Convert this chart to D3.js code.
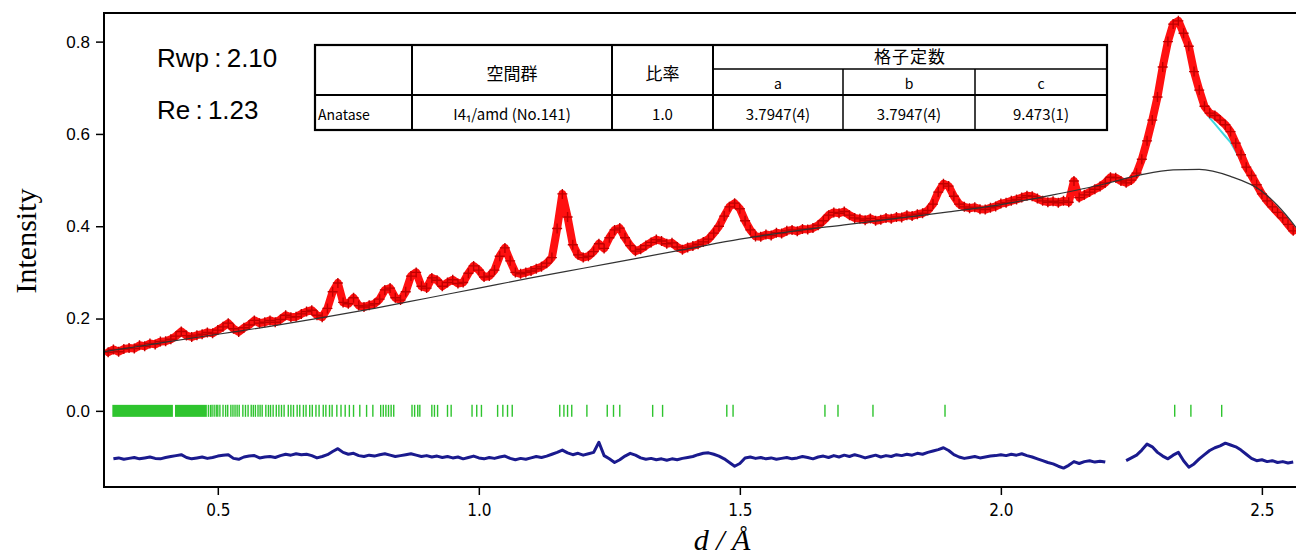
<!DOCTYPE html>
<html>
<head>
<meta charset="utf-8">
<script src="https://cdn.jsdelivr.net/npm/d3@7"></script>
<style>
  body { margin: 0; background: #fff; }
  svg { display: block; }
</style>
</head>
<body>
<svg id="chart" width="1296" height="555"></svg>
<script>
// axis limits and ticks
var xLimits = [0.282, 2.573];
var yLimits = [-0.165, 0.862];
var xTicks = [0.5, 1.0, 1.5, 2.0, 2.5];
var yTicks = [0.0, 0.2, 0.4, 0.6, 0.8];

// observed intensity, d from 0.29 step 0.01
var obsStart = 0.29, obsStep = 0.01;
var obs = [
  0.127,0.133,0.128,0.134,0.136,0.135,0.142,0.140,0.146,0.144,
  0.150,0.151,0.155,0.162,0.172,0.163,0.160,0.164,0.166,0.170,
  0.168,0.175,0.182,0.190,0.178,0.171,0.180,0.186,0.196,0.190,
  0.192,0.196,0.192,0.198,0.207,0.203,0.204,0.210,0.215,0.218,
  0.207,0.203,0.222,0.258,0.277,0.235,0.232,0.245,0.228,0.225,
  0.229,0.232,0.242,0.262,0.266,0.245,0.240,0.258,0.292,0.300,
  0.270,0.266,0.288,0.283,0.270,0.278,0.284,0.276,0.278,0.298,
  0.314,0.305,0.290,0.292,0.305,0.335,0.353,0.325,0.300,0.297,
  0.300,0.303,0.308,0.312,0.320,0.332,0.395,0.470,0.420,0.360,
  0.338,0.332,0.335,0.345,0.362,0.352,0.375,0.392,0.396,0.375,
  0.358,0.346,0.350,0.358,0.365,0.371,0.368,0.362,0.364,0.355,
  0.349,0.354,0.357,0.361,0.366,0.372,0.385,0.400,0.422,0.442,
  0.450,0.438,0.412,0.392,0.378,0.377,0.382,0.380,0.386,0.384,
  0.390,0.392,0.389,0.394,0.393,0.396,0.402,0.412,0.424,0.430,
  0.428,0.432,0.424,0.418,0.416,0.413,0.417,0.412,0.414,0.418,
  0.416,0.420,0.419,0.424,0.422,0.426,0.428,0.434,0.448,0.474,
  0.492,0.487,0.465,0.448,0.442,0.439,0.441,0.437,0.436,0.440,
  0.443,0.449,0.451,0.455,0.458,0.462,0.466,0.465,0.460,0.455,
  0.452,0.454,0.451,0.455,0.452,0.498,0.462,0.468,0.474,0.480,
  0.486,0.494,0.506,0.505,0.498,0.494,0.500,0.515,0.545,0.585,
  0.630,0.680,0.745,0.800,0.838,0.845,0.818,0.790,0.735,0.695,
  0.660,0.645,0.640,0.630,0.620,0.605,0.580,0.555,0.528,0.510,
  0.490,0.470,0.455,0.442,0.430,0.418,0.404,0.390
];

// calculated pattern near the strongest peak, d from 2.26 step 0.01
var calcStart = 2.26, calcStep = 0.01;
var calc = [
  0.515,0.545,0.585,0.632,0.682,0.745,0.800,0.836,0.842,0.815,
  0.785,0.735,0.690,0.652,0.635,0.622,0.608,0.595,0.582,0.562,
  0.542,0.522,0.505,0.488,0.472,0.458,0.444,0.430,0.417,0.403,
  0.390
];

// background curve
var bgD = [0.28,0.35,0.40,0.50,0.60,0.70,0.80,0.90,1.00,1.10,1.20,1.30,1.40,1.50,1.60,1.70,1.80,1.90,2.00,2.10,2.20,2.27,2.33,2.38,2.44,2.50,2.53,2.565,2.58];
var bgI = [0.128,0.140,0.149,0.166,0.183,0.202,0.222,0.244,0.266,0.288,0.309,0.330,0.351,0.372,0.389,0.403,0.417,0.431,0.447,0.468,0.492,0.512,0.522,0.523,0.508,0.476,0.445,0.398,0.375];

// difference curve, d from 0.30 step 0.01 (null = no data)
var diffStart = 0.30, diffStep = 0.01;
var diff = [
  -0.104,-0.102,-0.105,-0.103,-0.101,-0.104,-0.102,-0.100,-0.103,-0.104,
  -0.101,-0.099,-0.097,-0.095,-0.101,-0.104,-0.102,-0.100,-0.103,-0.101,
  -0.098,-0.096,-0.095,-0.103,-0.105,-0.100,-0.098,-0.097,-0.102,-0.100,
  -0.099,-0.101,-0.097,-0.094,-0.096,-0.093,-0.095,-0.094,-0.097,-0.102,
  -0.099,-0.095,-0.088,-0.082,-0.090,-0.094,-0.092,-0.097,-0.099,-0.096,
  -0.098,-0.095,-0.093,-0.096,-0.099,-0.097,-0.095,-0.093,-0.096,-0.099,
  -0.097,-0.100,-0.098,-0.101,-0.099,-0.102,-0.100,-0.104,-0.101,-0.098,
  -0.102,-0.104,-0.101,-0.103,-0.100,-0.098,-0.103,-0.106,-0.103,-0.105,
  -0.102,-0.099,-0.101,-0.098,-0.094,-0.090,-0.085,-0.091,-0.095,-0.092,
  -0.096,-0.093,-0.090,-0.068,-0.097,-0.104,-0.112,-0.106,-0.098,-0.092,
  -0.096,-0.102,-0.105,-0.103,-0.106,-0.104,-0.107,-0.104,-0.106,-0.103,
  -0.101,-0.099,-0.095,-0.092,-0.091,-0.094,-0.098,-0.104,-0.112,-0.120,
  -0.114,-0.102,-0.100,-0.103,-0.101,-0.104,-0.102,-0.105,-0.103,-0.101,
  -0.104,-0.102,-0.099,-0.101,-0.104,-0.100,-0.098,-0.101,-0.097,-0.100,
  -0.096,-0.099,-0.095,-0.098,-0.102,-0.099,-0.096,-0.100,-0.097,-0.099,
  -0.095,-0.097,-0.094,-0.096,-0.092,-0.094,-0.090,-0.087,-0.084,-0.080,
  -0.086,-0.095,-0.100,-0.103,-0.101,-0.099,-0.102,-0.100,-0.098,-0.097,
  -0.095,-0.097,-0.094,-0.096,-0.093,-0.097,-0.100,-0.104,-0.108,-0.112,
  -0.115,-0.120,-0.124,-0.118,-0.110,-0.114,-0.110,-0.108,-0.111,-0.109,
  -0.111,null,null,null,-0.108,-0.102,-0.096,-0.085,-0.072,-0.078,
  -0.090,-0.098,-0.104,-0.096,-0.090,-0.108,-0.122,-0.115,-0.104,-0.095,
  -0.086,-0.080,-0.076,-0.070,-0.074,-0.078,-0.085,-0.094,-0.103,-0.108,
  -0.106,-0.110,-0.108,-0.112,-0.110,-0.113,-0.111
];

// reflection positions (Anatase): solid bands where ticks merge, then single ticks
var reflBands = [[0.298, 0.414], [0.418, 0.479]];
var reflTicks = [
  0.482,0.486,0.489,0.493,0.497,0.500,0.504,0.510,0.515,0.519,0.525,0.529,0.533,0.537,0.541,
  0.548,0.553,0.558,0.564,0.568,0.572,0.577,0.581,0.585,0.592,0.597,0.601,0.606,0.612,0.617,
  0.622,0.627,0.635,0.640,0.645,0.652,0.657,0.664,0.669,0.676,0.681,0.688,0.694,0.702,0.707,
  0.714,0.719,0.728,0.736,0.744,0.752,0.760,0.772,0.785,0.797,0.812,0.817,0.822,0.827,0.832,
  0.837,0.872,0.877,0.883,0.887,0.910,0.915,0.921,0.940,0.947,0.987,0.996,1.005,1.036,1.046,
  1.055,1.064,1.155,1.163,1.170,1.178,1.207,1.246,1.258,1.270,1.333,1.352,1.475,1.487,1.663,
  1.688,1.755,1.893,2.333,2.364,2.423
];

// result box
var rTexts = ["Rwp : 2.10", "Re : 1.23"];
var tableHead = ["", "空間群", "比率"];
var latticeHead = "格子定数";
var latticeCols = ["a", "b", "c"];
var tableRow = ["Anatase", "I4\u2081/amd (No.141)", "1.0", "3.7947(4)", "3.7947(4)", "9.473(1)"];

var svg = d3.select("#chart"),
    margin = {top: 13, right: -4, bottom: 68, left: 104},
    width = +svg.attr("width") - margin.left - margin.right,
    height = +svg.attr("height") - margin.top - margin.bottom,
    g = svg.append("g").attr("transform", "translate(" + margin.left + "," + margin.top + ")");

var x = d3.scaleLinear().domain(xLimits).range([0, width]),
    y = d3.scaleLinear().domain(yLimits).range([height, 0]);

svg.append("defs").append("clipPath").attr("id", "clip")
  .append("rect").attr("width", width).attr("height", height);

var obsPts = obs.map(function(v, i) { return {d: obsStart + i * obsStep, v: v}; });
var calcPts = calc.map(function(v, i) { return {d: calcStart + i * calcStep, v: v}; });
var bgPts = bgD.map(function(d, i) { return {d: d, v: bgI[i]}; });
var diffPts = diff.map(function(v, i) { return {d: diffStart + i * diffStep, v: v}; });

var line = d3.line()
  .defined(function(p) { return p.v !== null; })
  .x(function(p) { return x(p.d); })
  .y(function(p) { return y(p.v); });

var plot = g.append("g").attr("clip-path", "url(#clip)");

// reflection marks
var y0 = y(0);
plot.selectAll(".band").data(reflBands).enter().append("rect")
  .attr("x", function(b) { return x(b[0]); })
  .attr("width", function(b) { return x(b[1]) - x(b[0]); })
  .attr("y", y0 - 6).attr("height", 12)
  .attr("fill", "#2ec42e");
plot.selectAll(".refl").data(reflTicks).enter().append("line")
  .attr("x1", function(d) { return x(d); }).attr("x2", function(d) { return x(d); })
  .attr("y1", y0 - 6).attr("y2", y0 + 6)
  .attr("stroke", "#2ec42e").attr("stroke-width", 1.4);

// difference
plot.append("path").datum(diffPts)
  .attr("d", line)
  .attr("fill", "none").attr("stroke", "#1a1a8e").attr("stroke-width", 3)
  .attr("stroke-linejoin", "round");

// calculated
plot.append("path").datum(calcPts)
  .attr("d", line)
  .attr("fill", "none").attr("stroke", "#3fd8e0").attr("stroke-width", 2);

// observed: thick red trace with + markers
plot.append("path").datum(obsPts)
  .attr("d", line)
  .attr("fill", "none").attr("stroke", "#ff1010").attr("stroke-width", 8)
  .attr("stroke-linejoin", "round").attr("stroke-linecap", "round");
plot.selectAll(".obs").data(obsPts).enter().append("path")
  .attr("transform", function(p) { return "translate(" + x(p.d) + "," + y(p.v) + ")"; })
  .attr("d", "M-5,0H5M0,-5V5")
  .attr("stroke", "#c00000").attr("stroke-width", 1.4);

// background
plot.append("path").datum(bgPts)
  .attr("d", d3.line().curve(d3.curveMonotoneX)
    .x(function(p) { return x(p.d); }).y(function(p) { return y(p.v); }))
  .attr("fill", "none").attr("stroke", "#333").attr("stroke-width", 1.2);

// frame
g.append("rect").attr("width", width).attr("height", height)
  .attr("fill", "none").attr("stroke", "#000").attr("stroke-width", 2);

// axes
var yAxis = g.append("g")
  .call(d3.axisLeft(y).tickValues(yTicks).tickFormat(d3.format(".1f")).tickSize(8).tickPadding(6));
yAxis.select(".domain").remove();
yAxis.selectAll("text").style("font", "17px 'Liberation Sans', Arial, sans-serif").attr("fill", "#000");
yAxis.selectAll("line").attr("stroke-width", 1.5);

var xAxis = g.append("g")
  .attr("transform", "translate(0," + height + ")")
  .call(d3.axisBottom(x).tickValues(xTicks).tickFormat(d3.format(".1f")).tickSize(8).tickPadding(9));
xAxis.select(".domain").remove();
xAxis.selectAll("text").style("font", "17px 'Liberation Sans Narrow', 'DejaVu Sans Condensed', 'Liberation Sans', sans-serif")
  .attr("fill", "#000");
xAxis.selectAll("line").attr("stroke-width", 1.5);

svg.append("text")
  .attr("transform", "translate(36,241) rotate(-90)")
  .attr("text-anchor", "middle")
  .style("font", "30px 'Liberation Serif', 'Times New Roman', serif")
  .text("Intensity");

svg.append("text")
  .attr("x", 722).attr("y", 550)
  .attr("text-anchor", "middle")
  .style("font", "italic 30px 'Liberation Serif', 'Times New Roman', serif")
  .text("d / Å");

// Rwp / Re
svg.selectAll(".rtext").data(rTexts).enter().append("text")
  .attr("x", 157).attr("y", function(t, i) { return 67 + i * 52; })
  .style("font", "26px 'Liberation Sans', Arial, sans-serif")
  .attr("word-spacing", "-2px")
  .text(function(t) { return t; });

// table
var colX = [315, 412, 612, 713, 843, 975, 1107],
    rowY = [45, 69, 95, 130];
var tbl = svg.append("g").attr("class", "table");
tbl.append("rect").attr("x", colX[0]).attr("y", rowY[0])
  .attr("width", colX[6] - colX[0]).attr("height", rowY[3] - rowY[0])
  .attr("fill", "#fff").attr("stroke", "#000").attr("stroke-width", 2.2);
tbl.append("line").attr("x1", colX[0]).attr("x2", colX[6]).attr("y1", rowY[2]).attr("y2", rowY[2])
  .attr("stroke", "#000").attr("stroke-width", 2);
tbl.append("line").attr("x1", colX[3]).attr("x2", colX[6]).attr("y1", rowY[1]).attr("y2", rowY[1])
  .attr("stroke", "#000").attr("stroke-width", 1.5);
[1, 2, 3].forEach(function(c) {
  tbl.append("line").attr("x1", colX[c]).attr("x2", colX[c]).attr("y1", rowY[0]).attr("y2", rowY[3])
    .attr("stroke", "#000").attr("stroke-width", 2);
});
[4, 5].forEach(function(c) {
  tbl.append("line").attr("x1", colX[c]).attr("x2", colX[c]).attr("y1", rowY[1]).attr("y2", rowY[3])
    .attr("stroke", "#000").attr("stroke-width", 1.5);
});

var cjk = "'Noto Sans CJK JP', 'Noto Sans', sans-serif";
tableHead.forEach(function(t, i) {
  tbl.append("text").attr("x", (colX[i] + colX[i + 1]) / 2).attr("y", 80)
    .attr("text-anchor", "middle").style("font", "17px " + cjk).text(t);
});
tbl.append("text").attr("x", (colX[3] + colX[6]) / 2).attr("y", 63)
  .attr("text-anchor", "middle").style("font", "17px " + cjk).attr("letter-spacing", "1px").text(latticeHead);
latticeCols.forEach(function(t, i) {
  tbl.append("text").attr("x", (colX[i + 3] + colX[i + 4]) / 2).attr("y", 89)
    .attr("text-anchor", "middle").style("font", "14px " + cjk).text(t);
});
tableRow.forEach(function(t, i) {
  tbl.append("text")
    .attr("x", i === 0 ? colX[0] + 3 : (colX[i] + colX[i + 1]) / 2)
    .attr("y", 120)
    .attr("text-anchor", i === 0 ? "start" : "middle")
    .style("font", (i === 0 ? "14px " : "15px ") + cjk)
    .text(t);
});
</script>
</body>
</html>
